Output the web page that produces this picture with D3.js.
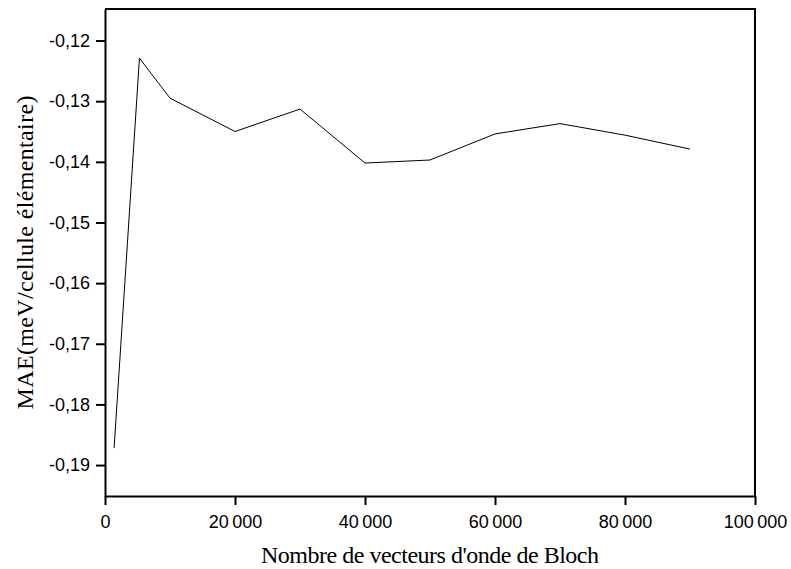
<!DOCTYPE html>
<html>
<head>
<meta charset="utf-8">
<script src="https://cdn.jsdelivr.net/npm/d3@7"></script>
<style>
  body { margin: 0; background: #fff; }
  svg { display: block; }
  .tick text { font-family: "Liberation Sans", Arial, sans-serif; font-size: 18px; fill: #000; }
  .title { font-family: "Liberation Serif", "Times New Roman", serif; font-size: 24px; fill: #000; }
</style>
</head>
<body>
<svg id="chart"></svg>
<script>
// number of Bloch wave vectors
var vectors = [1400, 5300, 10000, 20000, 30000, 40000, 50000, 60000, 70000, 80000, 90000];
// MAE values (meV / unit cell)
var mae = [-0.1872, -0.1229, -0.1295, -0.1350, -0.1313, -0.1402, -0.1397, -0.1354, -0.1337, -0.1356, -0.1379];
var xTicks = [0, 20000, 40000, 60000, 80000, 100000];
var yTicks = [-0.12, -0.13, -0.14, -0.15, -0.16, -0.17, -0.18, -0.19];

var width = 791, height = 569;
var plotLeft = 105, plotRight = 755, plotTop = 9, plotBottom = 496;

var svg = d3.select("#chart")
              .attr("width", width)
              .attr("height", height);

var fr = d3.formatLocale({decimal: ",", thousands: "\u2009", grouping: [3], currency: ["", " €"], minus: "-"});

var x = d3.scaleLinear()
          .domain([0, 100000])
          .range([plotLeft, plotRight]);

var y = d3.scaleLinear()
          .domain([-0.1951, -0.1148])
          .range([plotBottom, plotTop]);

// frame (top and right sides)
svg.append("path")
    .attr("d", "M" + plotLeft + "," + plotTop + "H" + plotRight + "V" + plotBottom)
    .attr("fill", "none")
    .attr("stroke", "#000")
    .attr("stroke-width", 2);

svg.append("g")
    .attr("transform", "translate(0," + plotBottom + ")")
    .call(d3.axisBottom(x)
            .tickValues(xTicks)
            .tickSize(9)
            .tickPadding(10)
            .tickSizeOuter(0)
            .tickFormat(fr.format(",d")));

svg.append("g")
    .attr("transform", "translate(" + plotLeft + ",0)")
    .call(d3.axisLeft(y)
            .tickValues(yTicks)
            .tickSize(9)
            .tickPadding(6)
            .tickSizeOuter(0)
            .tickFormat(fr.format(".2f")));

svg.selectAll(".domain, .tick line")
    .attr("stroke", "#000")
    .attr("stroke-width", 2);
svg.selectAll(".tick text").attr("font-family", null).attr("font-size", null);

var line = d3.line()
             .x(function(d, i) { return x(vectors[i]); })
             .y(function(d) { return y(d); });

svg.append("path")
    .datum(mae)
    .attr("d", line)
    .attr("fill", "none")
    .attr("stroke", "#000")
    .attr("stroke-width", 1);

svg.append("text")
    .attr("class", "title")
    .attr("x", (plotLeft + plotRight) / 2)
    .attr("y", 563)
    .attr("text-anchor", "middle")
    .attr("textLength", 338)
    .attr("lengthAdjust", "spacing")
    .text("Nombre de vecteurs d'onde de Bloch");

svg.append("text")
    .attr("class", "title")
    .attr("transform", "translate(33," + (plotTop + plotBottom) / 2 + ") rotate(-90)")
    .attr("text-anchor", "middle")
    .attr("textLength", 314)
    .attr("lengthAdjust", "spacing")
    .text("MAE(meV/cellule élémentaire)");
</script>
</body>
</html>
